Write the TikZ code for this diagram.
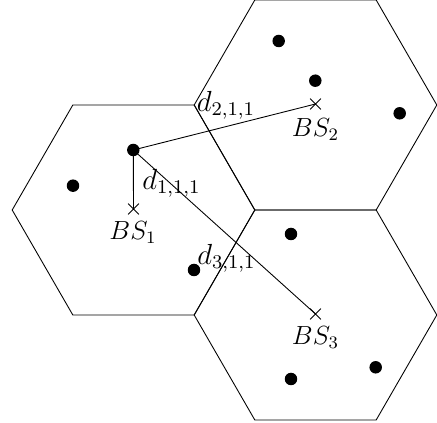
\documentclass[tikz,border=0pt]{standalone}
\usetikzlibrary{shapes.misc}
\begin{document}
\begin{tikzpicture}[x=0.018cm,y=-0.018cm,
  dot/.style={circle,fill=black,inner sep=0pt,minimum size=6.4pt},
  bsmark/.style={cross out,draw=black,inner sep=0pt,minimum size=5.2pt,line width=0.4pt},
  lbl/.style={inner sep=0pt,font=\large,scale=1.12},
  dlbl/.style={inner sep=0pt,font=\large,scale=1.24},
  cell/.style={draw=black,line width=0.45pt},
  link/.style={draw=black,line width=0.45pt}]
\useasboundingbox (0,0) rectangle (437,423);
% cells
\foreach \cx/\cy in {133.5/210, 315.5/105, 315.5/315}{
  \draw[cell] (\cx,\cy) +(0:121.3) -- +(60:121.3) -- +(120:121.3) -- +(180:121.3) -- +(240:121.3) -- +(300:121.3) -- cycle;
}
% base stations
\node[bsmark] (bs1) at (133.5,209) {};
\node[bsmark] (bs2) at (315.5,104) {};
\node[bsmark] (bs3) at (315.5,314) {};
\node[lbl] (l1) at (133,233) {$BS_1$};
\node[lbl] (l2) at (315.5,130) {$BS_2$};
\node[lbl] (l3) at (315.5,338) {$BS_3$};
% users
\node[dot] (u) at (133.3,150) {};
\node[dot] (a1) at (73,185.7) {};
\node[dot] (a2) at (194,270) {};
\node[dot] (a3) at (278.7,41) {};
\node[dot] (a4) at (315.3,80.7) {};
\node[dot] (a5) at (399.7,113.3) {};
\node[dot] (a6) at (291,234) {};
\node[dot] (a7) at (291,379) {};
\node[dot] (a8) at (375.7,367.3) {};
% links
\draw[link] (u.center) -- (bs1.center);
\draw[link] (u.center) -- (bs2.center);
\draw[link] (u.center) -- (bs3.center);
\node[dlbl] (d1) at (171.5,183) {$d_{1,1,1}$};
\node[dlbl] (d2) at (226,105) {$d_{2,1,1}$};
\node[dlbl] (d3) at (226.5,258) {$d_{3,1,1}$};
\end{tikzpicture}
\end{document}
